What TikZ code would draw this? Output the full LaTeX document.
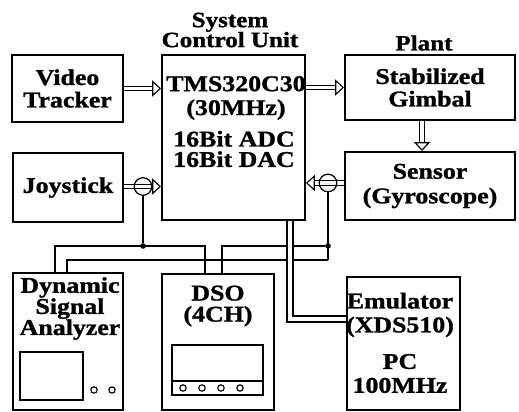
\documentclass[tikz,border=0pt]{standalone}
\usepackage{fontspec}
\setmainfont{Liberation Serif}[FakeStretch=1.15,BoldFeatures={FakeBold=1.2}]
\usepackage{tikz}
\usetikzlibrary{positioning,arrows.meta,calc}

\begin{document}
\begin{tikzpicture}[
    font=\fontsize{16}{16}\selectfont\bfseries,
    box/.style={draw,line width=1.4pt,inner sep=0pt,align=center},
    lbl/.style={align=center},
    ttl/.style={align=center,font=\fontsize{15.5}{14.2}\selectfont\bfseries},
    dbl/.style={double,double distance=2.6pt,line width=0.8pt,shorten >=1.8mm},
    dhead/.style={white,line width=0.1pt,
                  -{Triangle[black,fill=white,line width=0.8pt,length=2.2mm,width=4mm]}},
    wire/.style={line width=0.9pt},
    cable/.style={double,double distance=3pt,line width=1pt},
    tap/.style={circle,draw,line width=0.9pt,minimum size=4.4mm,inner sep=0pt},
    jn/.style={circle,fill,inner sep=0pt,minimum size=1.4mm},
    screen/.style={line width=0.9pt},
    knob/.style={circle,draw,line width=0.8pt,minimum size=1.6mm,inner sep=0pt},
]
\useasboundingbox (0,0) rectangle (12.975,10.3);

% =====================================================================
%  top row: tracker, control unit, plant
% =====================================================================
\node[box,minimum width=2.775cm,minimum height=1.675cm] (vt) at (1.6875,8.0875) {Video\\Tracker};
\node[box,minimum width=2.75cm,minimum height=1.725cm] (joy) at (1.7,5.6125) {Joystick};

\node[box,minimum width=3.575cm,minimum height=4.125cm] (scu) at (5.8375,6.8625) {};
\node[ttl] (scutitle) at (5.75,9.55) {System\\Control Unit};
\node[lbl] (cpu) at (5.9,7.85) {TMS320C30\\[1pt](30MHz)};
\node[lbl] (conv) at (5.85,6.575) {16Bit ADC\\[-1.5pt]16Bit DAC};

\node[box,minimum width=4.25cm,minimum height=1.625cm] (gimbal) at (10.75,8.1125) {Stabilized\\Gimbal};
\node[ttl] (planttitle) at (10.6,9.225) {Plant};
\node[box,minimum width=4.25cm,minimum height=1.7cm] (sensor) at (10.75,5.65) {Sensor\\[1.5pt](Gyroscope)};

% signal paths (double line + hollow head)
\coordinate (gs) at ([xshift=-0.2cm]gimbal.south);
\coordinate (sn) at ([xshift=-0.2cm]sensor.north);
\coordinate (jt) at (3.575,5.6375);
\coordinate (st) at (8.2,5.725);

\draw[dbl]   (vt.east) -- (vt.east -| scu.west);
\draw[dhead] (vt.east) -- (vt.east -| scu.west);
\draw[dbl]   (gimbal.west -| scu.east) -- (gimbal.west);
\draw[dhead] (gimbal.west -| scu.east) -- (gimbal.west);
\draw[dbl]   (gs) -- (sn);
\draw[dhead] (gs) -- (sn);
\draw[dbl]   (jt -| joy.east) -- (jt -| scu.west);
\draw[dhead] (jt -| joy.east) -- (jt -| scu.west);
\draw[dbl]   (st -| sensor.west) -- (st -| scu.east);
\draw[dhead] (st -| sensor.west) -- (st -| scu.east);

% taps on the joystick and gyro lines
\node[tap] (jtap) at (jt) {};
\node[tap] (stap) at (st) {};

% =====================================================================
%  instruments
% =====================================================================
\node[box,minimum width=2.75cm,minimum height=3.425cm] (dsa) at (1.7,1.7625) {};
\node[lbl] (dsatext) at (1.75,2.5875) {Dynamic\\[-1pt]Signal\\[-1pt]Analyzer};
\draw[screen] (0.5,0.3) rectangle (2.075,1.5);
\foreach \x/\n in {2.35/dsak1,2.8/dsak2}
   \node[knob] (\n) at (\x,0.55) {};

\node[box,minimum width=2.8cm,minimum height=3.4cm] (dso) at (5.45,1.75) {};
\node[lbl] (dsotext) at (5.45,2.65) {DSO\\[-1pt](4CH)};
\draw[screen] (4.3,0.425) rectangle (6.575,1.675);
\draw[screen] (4.3,0.775) -- (6.575,0.775);
\foreach \x/\n in {4.575/dsok1,5.05/dsok2,5.525/dsok3,6.0/dsok4}
   \node[knob] (\n) at (\x,0.6) {};

\node[box,minimum width=2.825cm,minimum height=3.325cm] (emu) at (10.0875,1.7125) {};
\node[lbl] (emutext) at (10.0,2.425) {Emulator\\[1pt](XDS510)};
\node[lbl] (pctext) at (10.0,0.9625) {PC\\[1pt]100MHz};

% =====================================================================
%  wiring
% =====================================================================
% joystick tap -> both analyzers
\node[jn] (jj) at (3.575,4.15) {};
\coordinate (jl) at (1.375,4.15);
\coordinate (jr) at (5.125,4.15);
\draw[wire] (jtap) -- (jj);
\draw[wire] (jl |- dsa.north) -- (jl) -- (jr) -- (jr |- dso.north);

% gyro tap -> both analyzers
\node[jn] (sj) at (8.2,4.15) {};
\coordinate (sb) at (8.2,3.8);
\coordinate (sl) at (5.55,4.15);
\coordinate (sl2) at (1.675,3.8);
\draw[wire] (stap) -- (sb);
\draw[wire] (sj) -- (sl) -- (sl |- dso.north);
\draw[wire] (sb) -- (sl2) -- (sl2 |- dsa.north);

% emulator cable
\draw[cable] ([xshift=1.4125cm]scu.south) |- ([yshift=0.6125cm]emu.west);

\end{tikzpicture}
\end{document}
